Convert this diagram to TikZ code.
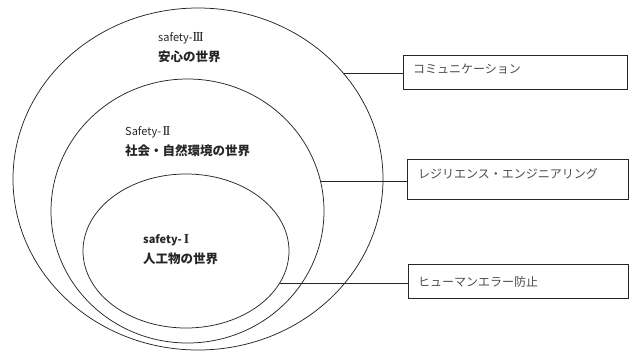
\documentclass[tikz,border=0pt]{standalone}
\usepackage{fontspec}
\setmainfont{Noto Sans CJK JP}
\newfontfamily\numfont[Scale=1.25]{Liberation Serif}
\usetikzlibrary{shapes.geometric,calc}
\begin{document}
\begin{tikzpicture}[x=1pt,y=-1pt,
  ring/.style={draw=black!85,ellipse,line width=0.75pt,inner sep=0pt},
  tagbox/.style={draw=black!85,line width=0.9pt,inner sep=0pt},
  link/.style={draw=black!85,line width=0.9pt},
  enlabel/.style={anchor=west,inner sep=0pt,font=\fontsize{11}{13}\selectfont,text=black!85},
  jplabel/.style={anchor=west,inner sep=0pt,font=\fontsize{12.5}{15}\selectfont\bfseries,text=black!85},
  boxtext/.style={anchor=west,inner sep=0pt,font=\fontsize{12}{14}\selectfont,text=black!70}]
\useasboundingbox (0,0) rectangle (630,351);
% ellipses
\node[ring,minimum width=370pt,minimum height=342pt] (outer) at (198,179) {};
\node[ring,minimum width=273pt,minimum height=264pt] (middle) at (187.5,211) {};
\node[ring,minimum width=206pt,minimum height=154pt] (inner) at (186,251) {};
% labels
\node[enlabel] (l3a) at (158,38) {safety-{\numfont I\kern-1.4pt I\kern-1.4pt I}};
\node[jplabel] (l3b) at (158,57) {安心の世界};
\node[enlabel] (l2a) at (125,132) {Safety-\kern1.5pt{\numfont I\kern-1.4pt I}};
\node[jplabel] (l2b) at (125,151) {社会・自然環境の世界};
\node[enlabel,font=\fontsize{11}{13}\selectfont\bfseries] (l1a) at (143,240) {safety-\kern2pt{\numfont I}};
\node[jplabel] (l1b) at (143,259) {人工物の世界};
% boxes
\node[tagbox,minimum width=224pt,minimum height=34pt] (b1) at (515,72) {};
\node[tagbox,minimum width=221pt,minimum height=40pt] (b2) at (517.5,179) {};
\node[tagbox,minimum width=220pt,minimum height=34pt] (b3) at (518,281) {};
\node[boxtext] (t1) at (413,69) {コミュニケーション};
\node[boxtext] (t2) at (418,174) {レジリエンス・エンジニアリング};
\node[boxtext] (t3) at (418,282) {ヒューマンエラー防止};
% connectors
\coordinate (p1) at (343.5,73);
\coordinate (p2) at (320.5,181);
\coordinate (p3) at (279.5,283);
\draw[link] (p1) -- (p1 -| b1.west);
\draw[link] (p2) -- (p2 -| b2.west);
\draw[link] (p3) -- (p3 -| b3.west);
\end{tikzpicture}
\end{document}
